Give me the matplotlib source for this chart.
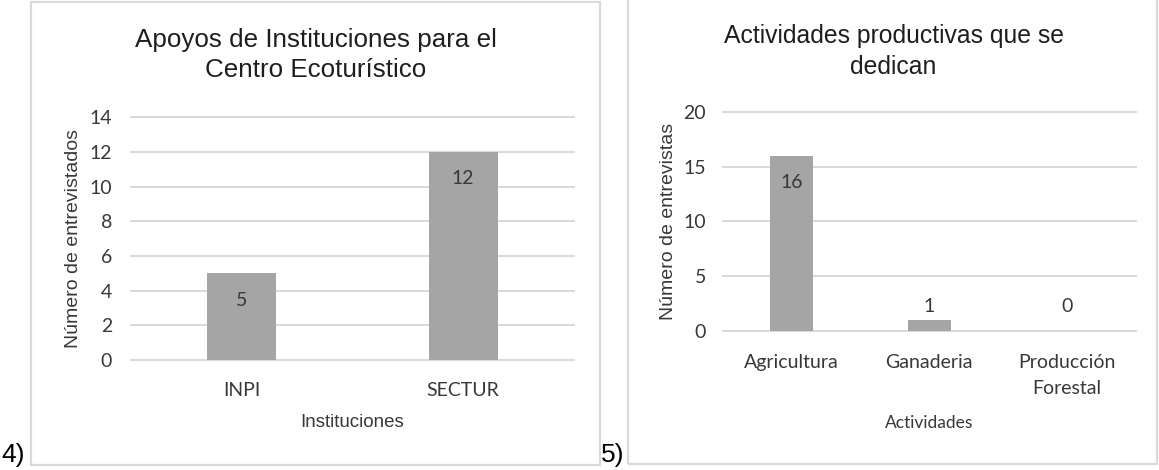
import matplotlib
matplotlib.use("Agg")
import matplotlib.pyplot as plt
from matplotlib.patches import Rectangle

# ---------------- data ----------------
inst_categories = ["INPI", "SECTUR"]
inst_values = [5, 12]
inst_yticks = [0, 2, 4, 6, 8, 10, 12, 14]
inst_title = "Apoyos de Instituciones para el\nCentro Ecoturístico"
inst_ylabel = "Número de entrevistados"
inst_xlabel = "Instituciones"

act_categories = ["Agricultura", "Ganaderia", "Producción\nForestal"]
act_values = [16, 1, 0]
act_yticks = [0, 5, 10, 15, 20]
act_title = "Actividades productivas que se\ndedican"
act_ylabel = "Número de entrevistas"
act_xlabel = "Actividades"

# ---------------- style ----------------
W, H = 1159, 470
BAR = "#A5A5A5"
GRID = "#D9D9D9"
BORDER = "#D9D9D9"
TXT = "#383838"
TITLE_C = "#1e1e1e"
CAL = ["Lato", "DejaVu Sans"]
ARIAL = ["Liberation Sans", "DejaVu Sans"]

fig = plt.figure(figsize=(W / 100, H / 100), dpi=100)


def px_rect(x0, y0, x1, y1):
    return [x0 / W, 1 - y1 / H, (x1 - x0) / W, (y1 - y0) / H]


def draw_panel(rect, cats, vals, yticks, ylabel, xlabel, xlabel_font, xlabel_size,
               label_offsets_pt, ylabel_x, xlabel_y, xpad, ypad):
    ax = fig.add_axes(rect)
    x = list(range(len(cats)))
    ax.bar(x, vals, width=0.31, color=BAR, zorder=3)
    ax.set_xlim(-0.5, len(cats) - 0.5)
    ax.set_ylim(yticks[0], yticks[-1])
    ax.set_yticks(yticks)
    ax.set_xticks(x)
    ax.set_xticklabels(cats)
    ax.set_axisbelow(True)
    ax.yaxis.grid(True, color=GRID, lw=1.4)
    for gl in ax.get_ygridlines():
        gl.set_clip_on(False)
    for s in ax.spines.values():
        s.set_visible(False)
    ax.tick_params(axis="both", length=0, colors=TXT, labelsize=14)
    ax.tick_params(axis="x", pad=xpad)
    ax.tick_params(axis="y", pad=ypad)
    for t in ax.get_xticklabels() + ax.get_yticklabels():
        t.set_family(CAL)
    for t in ax.get_xticklabels():
        t.set_linespacing(1.62)
    for i, v in enumerate(vals):
        ax.annotate(str(v), xy=(i, v), xytext=(0, label_offsets_pt[i]),
                    textcoords="offset points", ha="center", va="center",
                    fontsize=14, family=CAL, color=TXT, zorder=4)
    ax.set_ylabel(ylabel, family=ARIAL, fontsize=14, color=TXT)
    ax.yaxis.set_label_coords(ylabel_x, 0.5)
    ax.yaxis.label.set_va("center")
    ax.set_xlabel(xlabel, family=xlabel_font, fontsize=xlabel_size, color=TXT)
    ax.xaxis.set_label_coords(0.5, xlabel_y)
    ax.xaxis.label.set_va("center")
    return ax


# panel borders
fig.patches.append(Rectangle((31 / W, 1 - 465 / H), 569 / W, 463 / H,
                             transform=fig.transFigure, fill=False,
                             edgecolor=BORDER, lw=1.6))
fig.patches.append(Rectangle((628 / W, 1 - 464 / H), 529 / W, 474 / H,
                             transform=fig.transFigure, fill=False,
                             edgecolor=BORDER, lw=1.6))

draw_panel(px_rect(130.7, 117.3, 574, 360), inst_categories, inst_values,
           inst_yticks, inst_ylabel, inst_xlabel, ARIAL, 13.5,
           [-19.4, -19.4], -0.130, -0.2555, 15.5, 13.5)
draw_panel(px_rect(722.7, 112, 1136, 330.7), act_categories, act_values,
           act_yticks, act_ylabel, act_xlabel, CAL, 12.5,
           [-19.4, 9.4, 17.3], -0.132, -0.422, 17, 12)

# titles
fig.text(315.5 / W, 1 - 28.0 / H, inst_title, ha="center", va="top",
         family=ARIAL, fontsize=18.7, color=TITLE_C, linespacing=1.33)
fig.text(893.5 / W, 1 - 23.5 / H, act_title, ha="center", va="top",
         family=ARIAL, fontsize=17.8, color=TITLE_C, linespacing=1.38)

# panel numbers
fig.text(1 / W, 1 - 462 / H, "4)", ha="left", va="baseline",
         family=ARIAL, fontsize=19, color="black")
fig.text(601 / W, 1 - 462 / H, "5)", ha="left", va="baseline",
         family=ARIAL, fontsize=19, color="black")

fig.savefig("out.png", dpi=100, facecolor="white")
